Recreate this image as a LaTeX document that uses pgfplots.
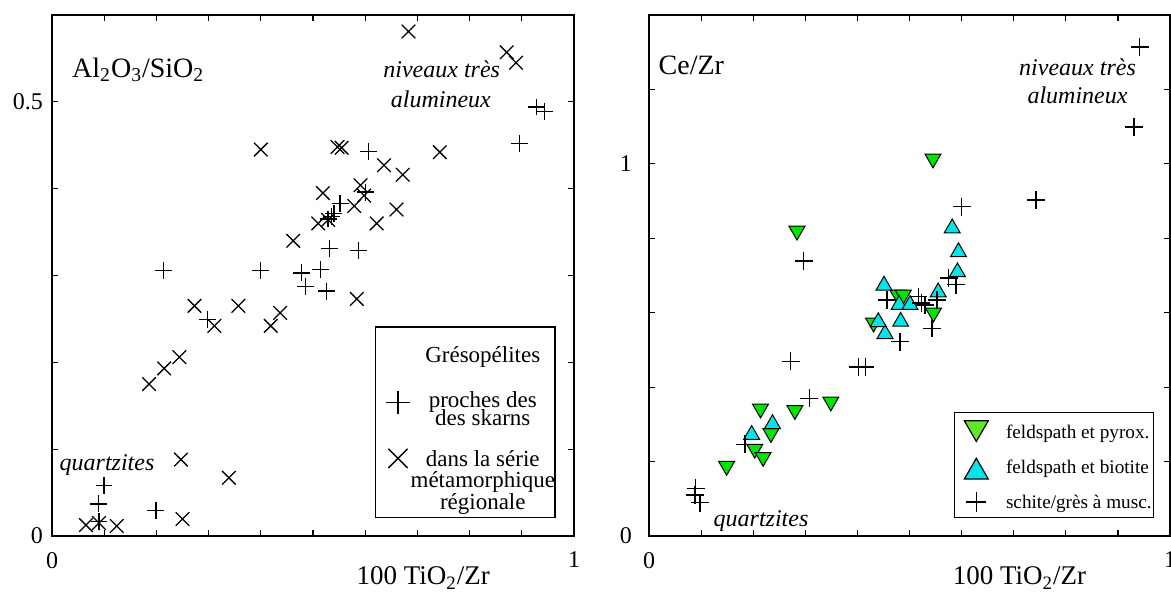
\documentclass[border=0pt]{standalone}
\usepackage{fontspec}
\setmainfont{Liberation Serif}
\usepackage{pgfplots}
\pgfplotsset{compat=1.18}
\definecolor{pgreen}{RGB}{0,230,0}
\definecolor{lgreen}{RGB}{100,230,40}
\definecolor{pcyan}{RGB}{0,230,235}
% legend text block: height above first baseline, depth below it, baselineskip, lines
\newcommand{\legblock}[4]{\raisebox{0pt}[#1][#2]{\vtop{\baselineskip=#3\relax\lineskiplimit=-20pt\relax\tabskip=0pt\halign{\hfil##\hfil\cr#4\crcr}}}}
\pgfplotsset{
  base/.style={
    scale only axis, height=260.5pt,
    xmin=0, xmax=1, ymin=0,
    axis line style={line width=0.6pt},
    tick align=inside, major tick length=3pt,
    tick style={line width=0.6pt, black},
    xtick={0,0.1,0.2,0.3,0.4,0.5,0.6,0.7,0.8,0.9,1},
    xticklabels={0,,,,,,,,,,1},
    tick label style={font=\fontsize{12}{14}\selectfont},
    xticklabel style={yshift=-4.5pt},
    xlabel={100 TiO\textsubscript{2}/Zr},
    xlabel style={at={(axis description cs:0.711,0)}, anchor=base, yshift=-24.5pt, font=\fontsize{13.5}{16}\selectfont},
    clip=false,
  }
}
\begin{document}
\begin{tikzpicture}
% ---------------- left panel ----------------
\begin{axis}[base, width=261pt, ymax=0.6,
  at={(26pt,28.5pt)}, anchor=south west,
  ytick={0,0.1,0.2,0.3,0.4,0.5},
  yticklabels={{0\hspace{2.5pt}},,,,,0.5},
  yticklabel style={xshift=-1pt},
  legend style={at={(axis description cs:0.6188,0.034)}, anchor=south west,
    draw=black, line width=0.6pt, inner xsep=0pt, inner ysep=0pt,
    row sep=0pt, column sep=0pt,
    font=\fontsize{11.5}{10}\selectfont},
  legend cell align=center,
  legend image code/.code={\path (-10.8pt,0pt) (6pt,0pt); \draw[#1, only marks] plot coordinates {(0pt,3pt)};},
]
\addplot[only marks, mark=+, mark size=4.2pt, line width=0.65pt, black, forget plot] coordinates {
(0.213,0.306) (0.400,0.306) (0.928,0.494) (0.943,0.489) (0.895,0.452)
(0.606,0.443) (0.600,0.396) (0.552,0.383) (0.529,0.365) (0.535,0.368)
(0.540,0.371) (0.531,0.331) (0.587,0.329) (0.478,0.303) (0.515,0.307)
(0.485,0.287) (0.526,0.282) (0.298,0.249) (0.0996,0.058) (0.089,0.037)
(0.199,0.029) (0.090,0.017)
};
\addplot[only marks, mark=x, mark size=4.8pt, line width=0.65pt, black, forget plot] coordinates {
(0.400,0.445) (0.683,0.581) (0.871,0.557) (0.889,0.545) (0.547,0.448)
(0.555,0.447) (0.743,0.442) (0.636,0.427) (0.672,0.416) (0.591,0.404)
(0.598,0.392) (0.519,0.395) (0.462,0.340) (0.579,0.380) (0.660,0.376)
(0.510,0.360) (0.529,0.364) (0.622,0.360) (0.584,0.273) (0.437,0.257)
(0.273,0.265) (0.357,0.265) (0.311,0.242) (0.419,0.242) (0.244,0.206)
(0.215,0.193) (0.186,0.175) (0.247,0.088) (0.339,0.067) (0.250,0.0195)
(0.065,0.0126) (0.090,0.015) (0.124,0.0115)
};
\addlegendimage{empty legend}
\addlegendentry[inner sep=0pt, text height=, text depth=]{\legblock{17.5pt}{11.2pt}{10pt}{Grésopélites}}
\addlegendimage{mark=+, mark size=5.8pt, line width=0.7pt, black, yshift=2.7pt}
\addlegendentry[inner sep=0pt, text height=, text depth=]{\legblock{11.45pt}{17.85pt}{8.85pt}{proches des\cr des skarns}}
\addlegendimage{mark=x, mark size=6.8pt, line width=0.7pt, black, yshift=8pt}
\addlegendentry[inner sep=0pt, text height=, text depth=]{\legblock{11.5pt}{25.8pt}{10.8pt}{dans la série\cr métamorphique\cr régionale}}
\node[anchor=base west, font=\fontsize{14}{16}\selectfont, inner sep=0pt] at (axis cs:0.038,0.528) {Al\textsubscript{2}O\textsubscript{3}/SiO\textsubscript{2}};
\node[anchor=base, font=\fontsize{12}{14}\itshape, inner sep=0pt] at (axis cs:0.7466,0.5275) {niveaux très};
\node[anchor=base, font=\fontsize{12}{14}\itshape, inner sep=0pt] at (axis cs:0.745,0.493) {alumineux};
\node[anchor=base west, font=\fontsize{12}{14}\itshape, inner sep=0pt] at (axis cs:0.014,0.0757) {quartzites};
\end{axis}
% ---------------- right panel ----------------
\begin{axis}[base, width=260.5pt, ymax=1.4,
  at={(324.5pt,28.5pt)}, anchor=south west,
  ytick={0,0.2,0.4,0.6,0.8,1,1.2},
  yticklabels={0,,,,,1,},
  yticklabel style={xshift=-5pt},
  legend style={at={(axis description cs:0.5854,0.034)}, anchor=south west,
    draw=black, line width=0.6pt, inner xsep=1pt, inner ysep=0pt,
    row sep=0pt, column sep=6pt,
    font=\fontsize{9.6}{11}\selectfont},
  legend cell align=left,
  legend image code/.code={\path (-9.5pt,0pt) (8.5pt,0pt); \draw[#1, only marks] plot coordinates {(0pt,-0.9pt)};},
]
\addplot[only marks, mark=triangle*, mark size=4.6pt, forget plot,
  mark options={rotate=180, fill=pgreen, draw=black, line width=0.5pt}] coordinates {
(0.284,0.820) (0.545,1.014) (0.478,0.648) (0.488,0.648) (0.546,0.600)
(0.431,0.573) (0.349,0.361) (0.280,0.338) (0.214,0.342) (0.234,0.276)
(0.203,0.234) (0.219,0.212) (0.149,0.188)
};
\addplot[only marks, mark=triangle*, mark size=4.6pt, forget plot,
  mark options={fill=pcyan, draw=black, line width=0.5pt}] coordinates {
(0.451,0.673) (0.582,0.827) (0.594,0.763) (0.592,0.709) (0.555,0.655)
(0.480,0.621) (0.501,0.621) (0.483,0.576) (0.453,0.543) (0.440,0.575)
(0.237,0.301) (0.197,0.272)
};
\addplot[only marks, mark=+, mark size=4.5pt, line width=0.65pt, black, forget plot] coordinates {
(0.297,0.739) (0.942,1.314) (0.931,1.099) (0.743,0.903) (0.600,0.885)
(0.575,0.693) (0.589,0.675) (0.517,0.643) (0.523,0.626) (0.530,0.621)
(0.457,0.634) (0.553,0.634) (0.543,0.558) (0.482,0.522) (0.272,0.469)
(0.402,0.454) (0.415,0.454) (0.308,0.370) (0.184,0.246) (0.0896,0.128)
(0.088,0.110) (0.098,0.090)
};
\addlegendimage{mark=triangle*, mark size=6.9pt, yshift=2.15pt, mark options={rotate=180, fill=lgreen, draw=black, line width=0.6pt}}
\addlegendentry[inner sep=0pt, text height=13pt, text depth=4.5pt]{feldspath et pyrox.}
\addlegendimage{mark=triangle*, mark size=6.9pt, yshift=-2.55pt, mark options={fill=pcyan, draw=black, line width=0.6pt}}
\addlegendentry[inner sep=0pt, text height=13pt, text depth=4.5pt]{feldspath et biotite}
\addlegendimage{mark=+, mark size=5pt, line width=0.7pt, black}
\addlegendentry[inner sep=0pt, text height=13pt, text depth=4.5pt]{schite/grès à musc.}
\node[anchor=base west, font=\fontsize{14}{16}\selectfont, inner sep=0pt] at (axis cs:0.0179,1.239) {Ce/Zr};
\node[anchor=base, font=\fontsize{12}{14}\itshape, inner sep=0pt] at (axis cs:0.8225,1.2366) {niveaux très};
\node[anchor=base, font=\fontsize{12}{14}\itshape, inner sep=0pt] at (axis cs:0.8225,1.163) {alumineux};
\node[anchor=base west, font=\fontsize{12}{14}\itshape, inner sep=0pt] at (axis cs:0.1234,0.025) {quartzites};
\end{axis}
\pgfresetboundingbox
\path[use as bounding box] (0,0) rectangle (585.5pt,296.5pt);
\end{tikzpicture}
\end{document}
